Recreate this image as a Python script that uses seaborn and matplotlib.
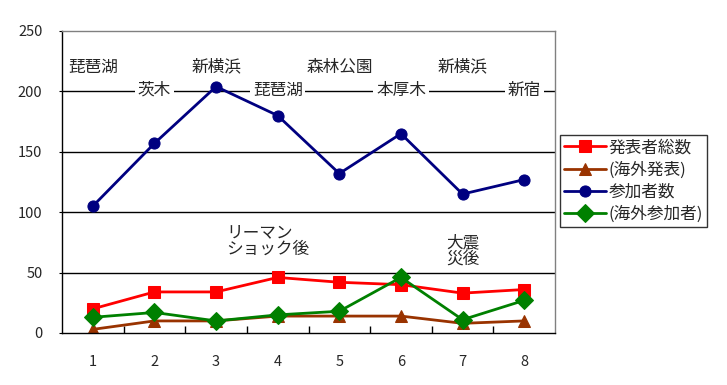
import matplotlib
matplotlib.use("Agg")
import matplotlib.pyplot as plt
import seaborn as sns
import pandas as pd

sns.set_style("white")
plt.rcParams['font.family'] = ['Noto Sans CJK JP', 'DejaVu Sans']

x = [1, 2, 3, 4, 5, 6, 7, 8]
presenters = [20, 34, 34, 46, 42, 40, 33, 36]
overseas_pres = [3, 10, 10, 14, 14, 14, 8, 10]
participants = [105, 157, 204, 180, 132, 165, 115, 127]
overseas_part = [13, 17, 10, 15, 18, 46, 11, 27]
series_names = ["発表者総数", "(海外発表)", "参加者数", "(海外参加者)"]
venues_top = {1: "琵琶湖", 3: "新横浜", 5: "森林公園", 7: "新横浜"}
venues_mid = {2: "茨木", 4: "琵琶湖", 6: "本厚木", 8: "新宿"}

colors = ["#FF0000", "#993300", "#000080", "#008000"]
markers = ["s", "^", "o", "D"]
msizes = [9, 9, 8, 9]
data = [presenters, overseas_pres, participants, overseas_part]

fig = plt.figure(figsize=(7.27, 3.85), dpi=100)
ax = fig.add_axes([62/727, 52/385, (555-62)/727, (333-31)/385])

for name, vals, c, m, ms in zip(series_names, data, colors, markers, msizes):
    df = pd.DataFrame({"x": x, "y": vals})
    sns.lineplot(data=df, x="x", y="y", ax=ax, color=c, marker=m, markersize=ms,
                 markeredgecolor=c, linewidth=2, label=name)

ax.set_xlim(0.5, 8.5)
ax.set_ylim(0, 250)
ax.set_yticks([0, 50, 100, 150, 200, 250])
ax.set_xticks(x)
ax.set_xticks([1.5, 2.5, 3.5, 4.5, 5.5, 6.5, 7.5], minor=True)
ax.tick_params(axis='x', which='major', length=0, pad=16, labelsize=10.5)
ax.tick_params(axis='x', which='minor', length=5, direction='in', color='black', width=1, bottom=True)
ax.tick_params(axis='y', length=2, direction='out', color='black', labelsize=10.5, left=True, pad=12)
ax.set_xlabel("")
ax.set_ylabel("")
for yv in [50, 100, 150, 200]:
    ax.axhline(yv, color='black', linewidth=1, zorder=0.5)

for s in ['left', 'bottom']:
    ax.spines[s].set_color('black')
    ax.spines[s].set_linewidth(1)
for s in ['top', 'right']:
    ax.spines[s].set_color('#808080')
    ax.spines[s].set_linewidth(1)

for k, t in venues_top.items():
    ax.text(k, 220, t, ha='center', va='center', fontsize=12, zorder=1)
for k, t in venues_mid.items():
    ax.text(k, 201, t, ha='center', va='center', fontsize=12, zorder=1,
            bbox=dict(facecolor='white', edgecolor='none', pad=2))

ax.text(3.16, 76, "リーマン\nショック後", ha='left', va='center', fontsize=12, linespacing=1.0)
ax.text(7, 68, "大震\n災後", ha='center', va='center', fontsize=12, linespacing=0.95)

leg = ax.legend(loc='upper left', bbox_to_anchor=(560/727, (385-135)/385),
                bbox_transform=fig.transFigure, frameon=True, fancybox=False,
                edgecolor='black', fontsize=12, borderpad=0.25, labelspacing=0.3,
                handlelength=2.5, handletextpad=0.15, borderaxespad=0)
leg.get_frame().set_linewidth(1)

fig.savefig("out.png", dpi=100, facecolor='white')
